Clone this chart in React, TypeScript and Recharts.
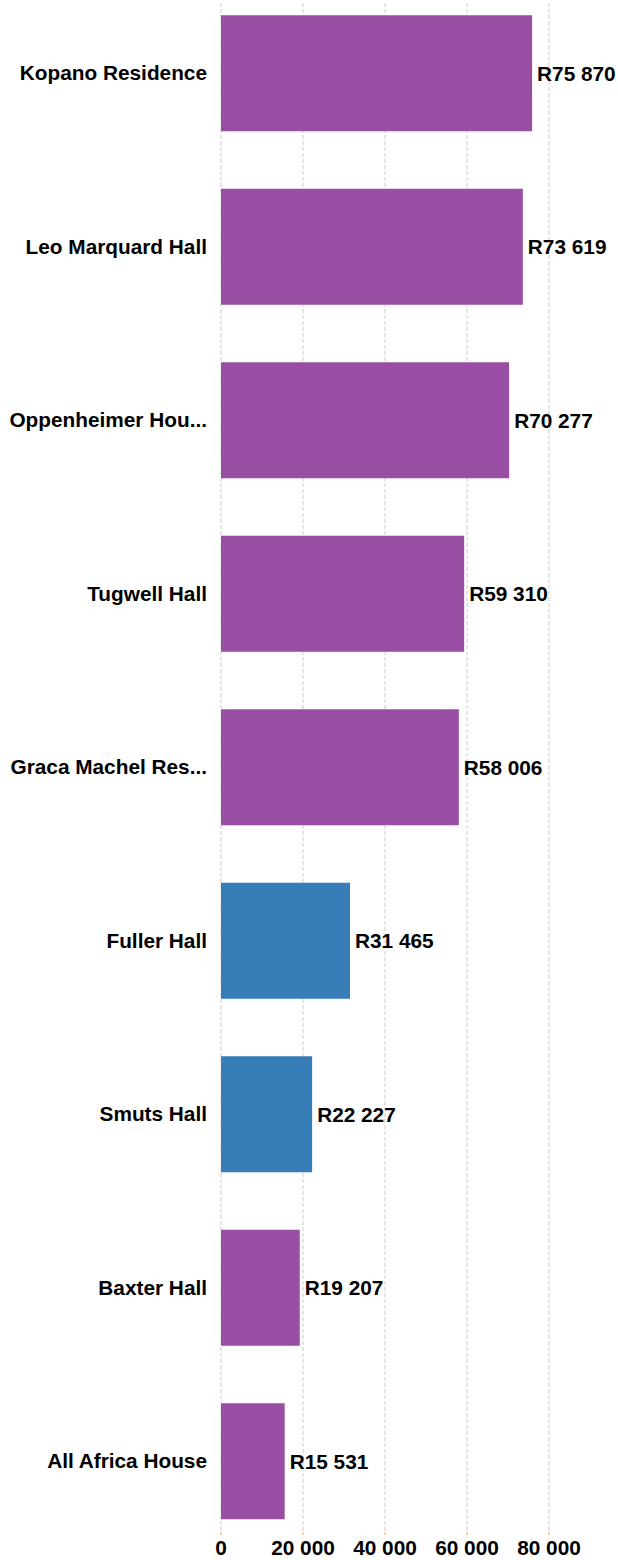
import React from "react";
import { BarChart, Bar, XAxis, YAxis, CartesianGrid, Cell, LabelList } from "recharts";

const categories = [
  "Kopano Residence",
  "Leo Marquard Hall",
  "Oppenheimer Hou...",
  "Tugwell Hall",
  "Graca Machel Res...",
  "Fuller Hall",
  "Smuts Hall",
  "Baxter Hall",
  "All Africa House",
];
const values = [75870, 73619, 70277, 59310, 58006, 31465, 22227, 19207, 15531];
const groups = ["a", "a", "a", "a", "a", "b", "b", "a", "a"];
const xTicks = [0, 20000, 40000, 60000, 80000];

const groupColors: Record<string, string> = { a: "#984ea3", b: "#377eb8" };

const data = categories.map((name, i) => ({ name, value: values[i], group: groups[i] }));

const fmt = (v: number) => String(Math.round(v)).replace(/\B(?=(\d{3})+(?!\d))/g, " ");

const FONT = "'Liberation Sans', Arial, Helvetica, sans-serif";
const FS = 20.8;

export default function App() {
  return (
    <div style={{ position: "absolute", left: 0, top: 0 }}>
      <BarChart
        width={618}
        height={1560}
        data={data}
        layout="vertical"
        margin={{ top: 3, right: 69, bottom: 0, left: 0 }}
      >
        <CartesianGrid horizontal={false} stroke="#cccccc" strokeDasharray="4 2" />
        <XAxis
          type="number"
          domain={[0, 80000]}
          ticks={xTicks}
          tickFormatter={fmt}
          axisLine={false}
          tickSize={3}
          tickMargin={5}
          tickLine={{ stroke: "#f5a040" }}
          height={28}
          interval={0}
          tick={{ fill: "#000", fontSize: FS, fontWeight: "bold", fontFamily: FONT }}
        />
        <YAxis
          type="category"
          dataKey="name"
          width={221}
          axisLine={false}
          tickLine={false}
          tickSize={0}
          tickMargin={14}
          interval={0}
          padding={{ top: -16.75, bottom: -15.75 }}
          tick={{ fill: "#000", fontSize: FS, fontWeight: "bold", fontFamily: FONT }}
        />
        <Bar dataKey="value" barSize={116} isAnimationActive={false}>
          {data.map((d, i) => (
            <Cell key={i} fill={groupColors[d.group]} />
          ))}
          <LabelList
            dataKey="value"
            position="right"
            offset={5}
            formatter={(v: number) => "R" + fmt(v)}
            style={{ fill: "#000", fontSize: FS, fontWeight: "bold", fontFamily: FONT }}
          />
        </Bar>
      </BarChart>
    </div>
  );
}
